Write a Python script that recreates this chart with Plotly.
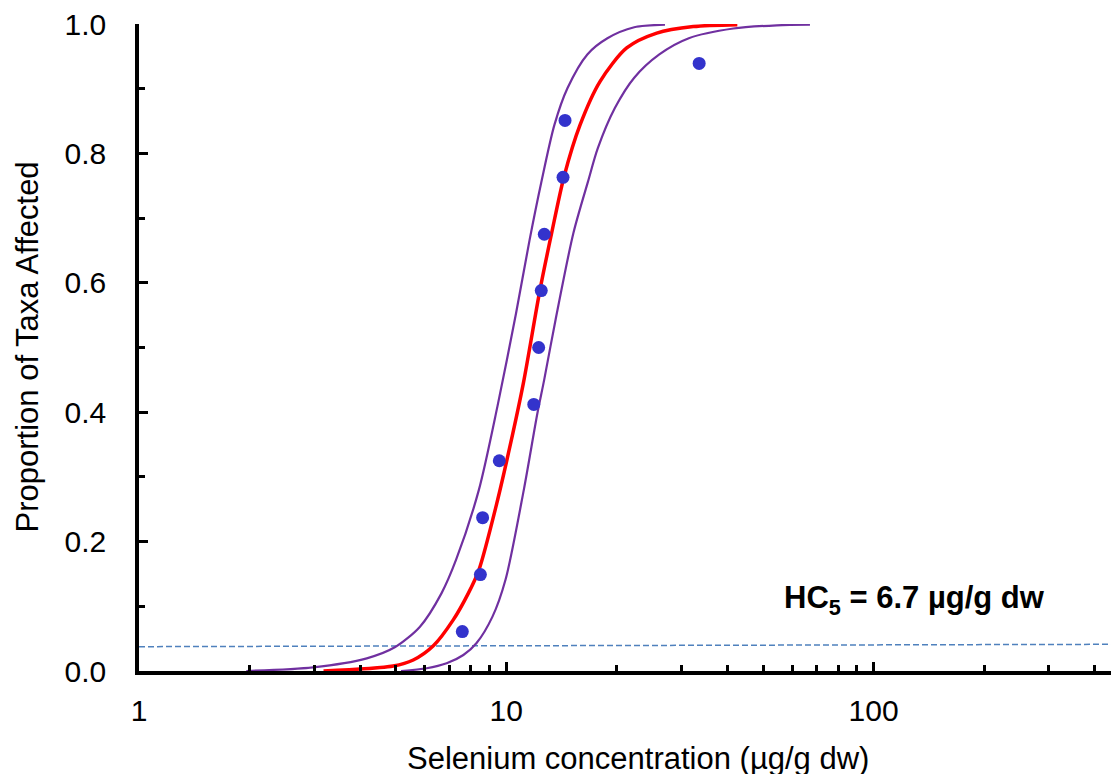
import plotly.graph_objects as go

# Observed data points (concentration, proportion affected)
obs_conc = [7.59, 8.50, 8.62, 9.57, 11.88, 12.25, 12.45, 12.69, 14.27, 14.45, 33.5]
obs_prop = [0.061, 0.149, 0.237, 0.325, 0.412, 0.500, 0.588, 0.675, 0.763, 0.851, 0.939]

# Fitted SSD curve
fit_conc = [3.18, 4.92, 5.58, 6.33, 7.17, 7.88, 8.42, 9.42, 10.23, 11.13, 12.35,
            13.29, 14.36, 15.88, 17.99, 21.27, 25.68, 32.29, 42.56]
fit_prop = [0.0, 0.0077, 0.017, 0.039, 0.079, 0.120, 0.156, 0.259, 0.347, 0.445, 0.589,
            0.677, 0.764, 0.844, 0.911, 0.963, 0.986, 0.996, 0.999]

# Upper confidence bound (left purple curve)
upper_conc = [1.96, 2.98, 4.17, 4.97, 5.82, 6.66, 7.30, 8.42, 9.46, 10.63, 11.57,
              12.45, 13.52, 14.68, 16.62, 18.85, 22.3, 27.04]
upper_prop = [0.0, 0.0057, 0.0196, 0.0366, 0.0685, 0.120, 0.172, 0.280, 0.409, 0.553, 0.666,
              0.755, 0.844, 0.901, 0.953, 0.978, 0.995, 0.999]

# Lower confidence bound (right purple curve)
lower_conc = [5.17, 6.07, 6.88, 7.64, 8.29, 9.17, 9.95, 11.16, 12.15, 12.68, 13.62,
              15.23, 16.68, 17.75, 19.75, 22.3, 26.1, 31.4, 41.50, 54.48, 67.1]
lower_prop = [0.0, 0.0042, 0.0119, 0.0247, 0.0428, 0.084, 0.141, 0.280, 0.398, 0.450, 0.543,
              0.677, 0.756, 0.808, 0.870, 0.917, 0.953, 0.978, 0.993, 0.998, 0.999]

# HC5 reference line
hc_line_conc = [1.0, 480.0]
hc_line_prop = [0.0376, 0.0413]

x_title = "Selenium concentration (µg/g dw)"
y_title = "Proportion of Taxa Affected"
hc_text = "<b>HC<sub>5</sub> = 6.7 µg/g dw</b>"

FONT = "Liberation Sans, Arial, sans-serif"

fig = go.Figure()
fig.add_trace(go.Scatter(x=hc_line_conc, y=hc_line_prop, mode="lines",
                         line=dict(color="#4F81BD", width=1.5, dash="6px,3px"),
                         cliponaxis=False, hoverinfo="skip"))
for cx, cy in [(upper_conc, upper_prop), (lower_conc, lower_prop)]:
    fig.add_trace(go.Scatter(x=cx, y=cy, mode="lines",
                             line=dict(color="#7030A0", width=2.2, shape="spline", smoothing=0.8),
                             cliponaxis=False))
fig.add_trace(go.Scatter(x=fit_conc, y=fit_prop, mode="lines",
                         line=dict(color="#FF0000", width=3.5, shape="spline", smoothing=0.8),
                         cliponaxis=False))
fig.add_trace(go.Scatter(x=obs_conc, y=obs_prop, mode="markers",
                         marker=dict(color="#3333CC", size=13),
                         cliponaxis=False))

# page body has an 8px margin: compensate so the plot lands where the reference has it
OFF = 8
W, H = 1119, 774
ml, mr = 139 - OFF, 0
mt = 24 - OFF
plot_bottom = 671 - OFF
mb = H - plot_bottom
pw = W - ml - mr
ph = H - mt - mb
x_right_log = (1119 + OFF - 139) / 367.3  # figure's right edge in log units

fig.update_layout(
    width=W, height=H,
    margin=dict(l=ml, r=mr, t=mt, b=mb),
    paper_bgcolor="white", plot_bgcolor="white",
    showlegend=False,
    font=dict(family=FONT, size=30, color="black"),
    xaxis=dict(
        type="log", range=[0, x_right_log],
        showgrid=False, zeroline=False,
        showline=True, linecolor="black", linewidth=3.5,
        ticks="inside", ticklen=9, tickwidth=3, tickcolor="black",
        tickvals=[1, 10, 100], ticktext=["1", "10", "100"],
        ticklabelstandoff=10, ticklabeloverflow="allow",
        tickfont=dict(family=FONT, size=30),
        minor=dict(tickvals=[2, 3, 4, 5, 6, 7, 8, 9, 20, 30, 40, 50, 60, 70, 80, 90, 200, 300, 400],
                   ticks="inside", ticklen=6, tickwidth=3, tickcolor="black", showgrid=False),
    ),
    yaxis=dict(
        range=[0, 1.0],
        showgrid=False, zeroline=False,
        showline=True, linecolor="black", linewidth=3.5,
        ticks="inside", ticklen=9, tickwidth=3, tickcolor="black",
        tickvals=[0, 0.2, 0.4, 0.6, 0.8, 1.0],
        tickformat=".1f",
        ticklabelstandoff=23, ticklabeloverflow="allow",
        tickfont=dict(family=FONT, size=30),
        minor=dict(tickvals=[0.1, 0.3, 0.5, 0.7, 0.9],
                   ticks="inside", ticklen=6, tickwidth=3, tickcolor="black", showgrid=False),
    ),
    annotations=[
        dict(text=x_title, xref="paper", yref="paper",
             x=(638 - OFF - ml) / pw, y=-(758 - 671) / ph,
             xanchor="center", yanchor="middle", showarrow=False,
             font=dict(family=FONT, size=31, color="black")),
        dict(text=y_title, xref="paper", yref="paper",
             x=-(139 - 27) / pw, y=0.5, textangle=-90,
             xanchor="center", yanchor="middle", showarrow=False,
             font=dict(family=FONT, size=31, color="black")),
        dict(text=hc_text, xref="paper", yref="paper",
             x=(914 - 139) / pw, y=(671 - 600) / ph,
             xanchor="center", yanchor="middle", showarrow=False,
             font=dict(family=FONT, size=31, color="black")),
    ],
)

fig.write_html("out.html")
